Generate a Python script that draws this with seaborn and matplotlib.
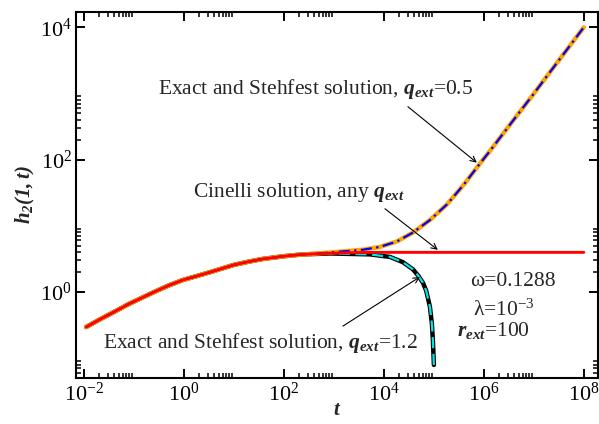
import numpy as np
import pandas as pd
import matplotlib
matplotlib.use("Agg")
import matplotlib.pyplot as plt
import seaborn as sns
from matplotlib.ticker import FixedLocator, NullFormatter

# ---- data (log-log) ----
# Cinelli solution (any q_ext)
t_cinelli = [0.011, 0.02, 0.04, 0.079, 0.15, 0.275, 0.5, 0.955, 2, 3.16, 5,
             10, 20, 38, 100, 182, 300, 830, 3000, 1e4, 1e5, 1e6, 1e7, 1e8]
h_cinelli = [0.295, 0.38, 0.50, 0.66, 0.83, 1.03, 1.26, 1.52, 1.78, 1.97, 2.19,
             2.57, 2.88, 3.16, 3.47, 3.63, 3.72, 3.85, 3.94, 3.97, 3.97, 3.97, 3.97, 3.97]

# exact / Stehfest, q_ext = 0.5 (shares early time part)
t_q05 = t_cinelli[:17] + [830, 3800, 8300, 18200, 38000, 83000, 182000, 398000,
                          832000, 1.3e6, 2.09e6, 4.5e6, 9.55e6, 2.2e7, 4.57e7, 1e8]
h_q05 = h_cinelli[:17] + [3.95, 4.35, 4.8, 5.8, 7.9, 12.2, 21.0, 42.0,
                          87.0, 133.0, 213.0, 455.0, 950.0, 2200.0, 4570.0, 1e4]

# exact / Stehfest, q_ext = 1.2
t_q12 = t_cinelli[:17] + [830, 5250, 13200, 24000, 38000, 49000, 60300, 70000,
                          83200, 91200, 95500, 1e5]
h_q12 = h_cinelli[:17] + [3.82, 3.70, 3.39, 2.82, 2.20, 1.75, 1.38, 1.05,
                          0.60, 0.33, 0.186, 0.079]

x_major = [1e-2, 1e0, 1e2, 1e4, 1e6, 1e8]
x_labels = ["$10^{-2}$", "$10^{0}$", "$10^{2}$", "$10^{4}$", "$10^{6}$", "$10^{8}$"]
y_major = [1e0, 1e2, 1e4]
y_labels = ["$10^{0}$", "$10^{2}$", "$10^{4}$"]

# ---- style ----
sns.set_style("ticks")
plt.rcParams.update({
    "font.family": ["Liberation Serif", "DejaVu Serif"],
    "mathtext.fontset": "custom",
    "mathtext.rm": "Liberation Serif",
    "mathtext.it": "Liberation Serif:italic:bold",
    "mathtext.bf": "Liberation Serif:bold",
    "axes.linewidth": 1.5,
    "axes.edgecolor": "black",
    "xtick.direction": "in",
    "ytick.direction": "in",
    "xtick.top": True,
    "ytick.right": True,
    "xtick.major.size": 6.5,
    "ytick.major.size": 6.5,
    "xtick.minor.size": 3.8,
    "ytick.minor.size": 3.8,
    "xtick.major.width": 1.4,
    "ytick.major.width": 1.4,
    "xtick.minor.width": 1.1,
    "ytick.minor.width": 1.1,
    "xtick.color": "black",
    "ytick.color": "black",
})

fig = plt.figure(figsize=(5.99, 4.24), dpi=100)
ax = fig.add_axes([0.127, 0.1085, 0.871, 0.863])

df_c = pd.DataFrame({"t": t_cinelli, "h": h_cinelli})
df_05 = pd.DataFrame({"t": t_q05, "h": h_q05})
df_12 = pd.DataFrame({"t": t_q12, "h": h_q12})

sns.lineplot(data=df_12, x="t", y="h", ax=ax, color="black", lw=3.2,
             estimator=None, sort=False)
sns.lineplot(data=df_12, x="t", y="h", ax=ax, color="#00E5E5", lw=1.6,
             estimator=None, sort=False, linestyle=(0, (5, 2.5)))
sns.lineplot(data=df_05, x="t", y="h", ax=ax, color="#FFA500", lw=3.2,
             estimator=None, sort=False)
sns.lineplot(data=df_05, x="t", y="h", ax=ax, color="#0000FF", lw=1.6,
             estimator=None, sort=False, linestyle=(0, (5, 2, 1, 2)))
sns.lineplot(data=df_c, x="t", y="h", ax=ax, color="#FF0000", lw=2.1,
             estimator=None, sort=False)

ax.set_xscale("log")
ax.set_yscale("log")
ax.set_xlim(10 ** -2.16, 10 ** 8.28)
ax.set_ylim(10 ** -1.30, 10 ** 4.23)

ax.xaxis.set_major_locator(FixedLocator(x_major))
ax.set_xticklabels(x_labels)
ax.yaxis.set_major_locator(FixedLocator(y_major))
ax.set_yticklabels(y_labels)
x_minor = [k * 10.0 ** j for j in (-2, 0, 2, 4, 6) for k in range(2, 10)]
y_minor = [k * 10.0 ** j for j in (-2, 0, 2) for k in range(2, 10)]
ax.xaxis.set_minor_locator(FixedLocator(x_minor))
ax.yaxis.set_minor_locator(FixedLocator(y_minor))
ax.xaxis.set_minor_formatter(NullFormatter())
ax.yaxis.set_minor_formatter(NullFormatter())
ax.tick_params(axis="both", which="major", labelsize=16, pad=3)

ax.set_xlabel("$t$", fontsize=15, labelpad=-3)
ax.set_ylabel("$\\mathdefault{h_2(1,t)}$", fontsize=15, labelpad=2,
              fontweight="bold", fontstyle="italic")

# ---- annotations ----
fs = 15.5
ax.text(0.30, 966, "Exact and Stehfest solution, $q_{ext}$=0.5", fontsize=fs,
        ha="left", va="baseline")
ax.text(1.51, 27.5, "Cinelli solution, any $q_{ext}$", fontsize=fs,
        ha="left", va="baseline")
ax.text(0.024, 0.141, "Exact and Stehfest solution, $q_{ext}$=1.2", fontsize=fs,
        ha="left", va="baseline")

arrow = dict(arrowstyle="->", color="black", lw=0.8, shrinkA=0, shrinkB=0)
ax.annotate("", xy=(7.24e5, 90), xytext=(3.02e4, 631), arrowprops=arrow)
ax.annotate("", xy=(1.2e5, 4.33), xytext=(1.05e4, 18.1), arrowprops=arrow)
ax.annotate("", xy=(5.25e4, 1.69), xytext=(1514, 0.305), arrowprops=arrow)

ax.text(10 ** 5.72, 10 ** 0.09, "ω=0.1288", fontsize=fs, ha="left", va="baseline")
ax.text(10 ** 5.78, 10 ** -0.36, "λ=$10^{-3}$", fontsize=fs, ha="left", va="baseline")
ax.text(10 ** 5.46, 10 ** -0.667, "$r_{ext}$=100", fontsize=fs, ha="left", va="baseline")

fig.savefig("out.png", dpi=100)
